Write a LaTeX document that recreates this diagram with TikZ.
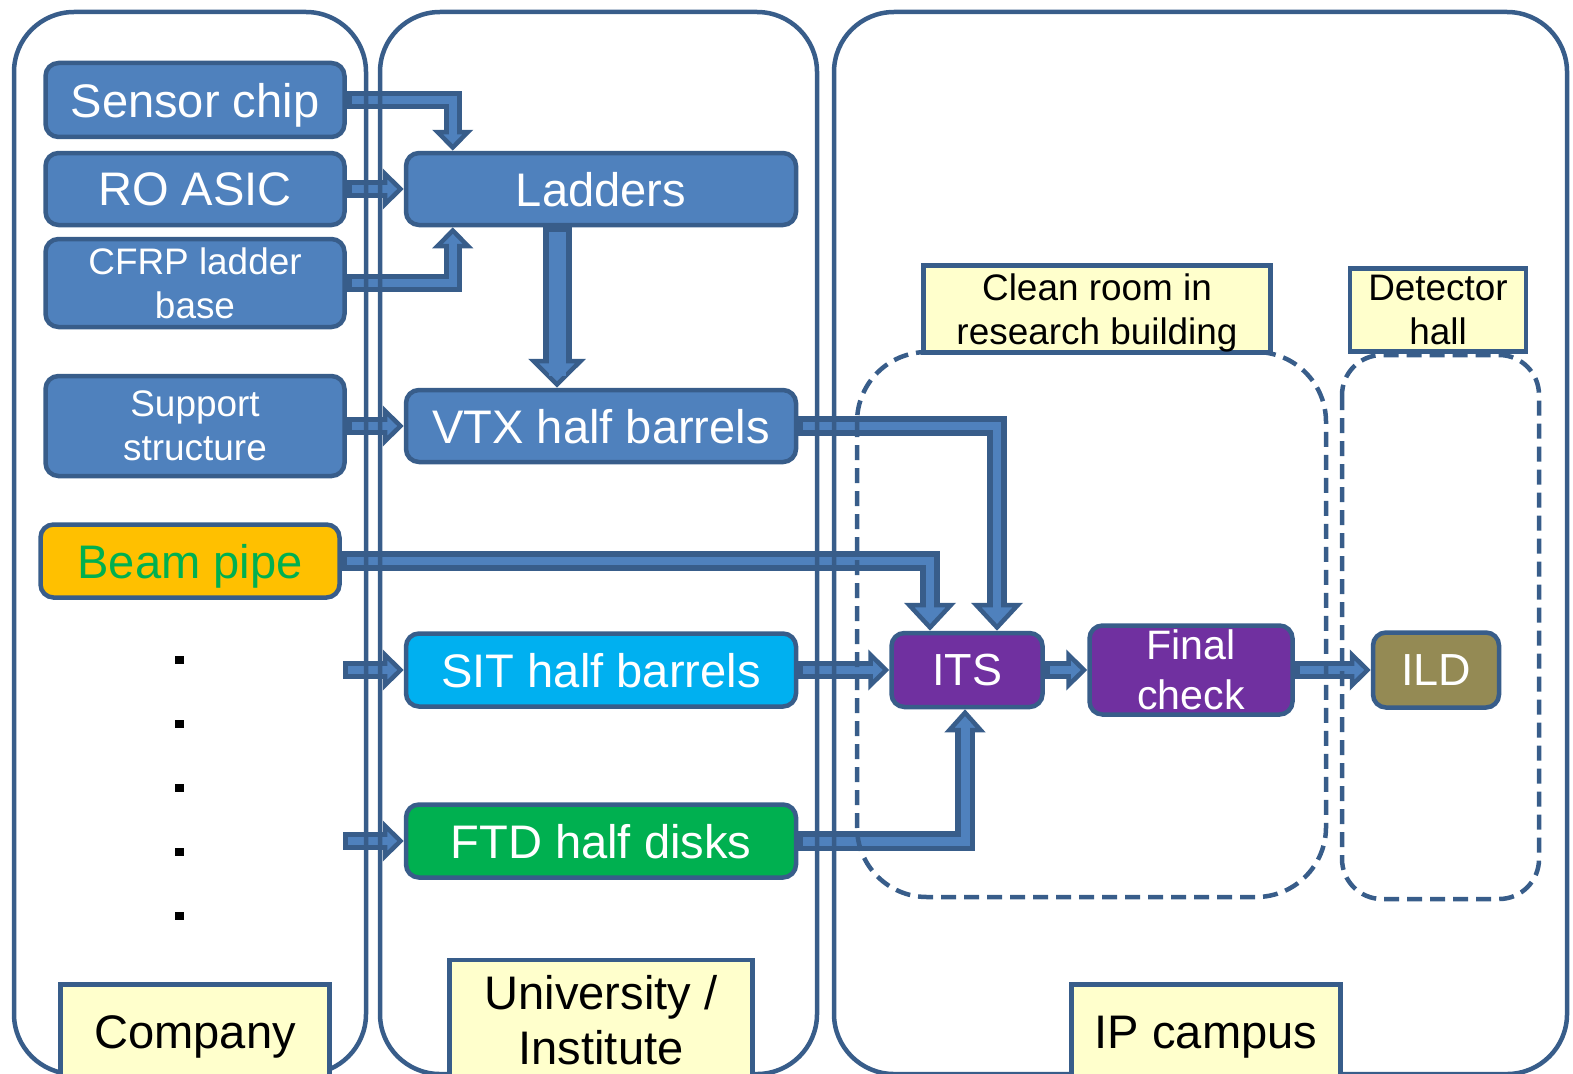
\documentclass[tikz,border=0pt]{standalone}
\usepackage{fontspec}
\setmainfont{Liberation Sans}
\usetikzlibrary{arrows.meta}

\definecolor{edge}{RGB}{56,93,138}
\definecolor{boxblue}{RGB}{79,129,189}
\definecolor{note}{RGB}{255,255,204}
\definecolor{pipeorange}{RGB}{255,192,0}
\definecolor{sitblue}{RGB}{0,176,240}
\definecolor{ftdgreen}{RGB}{0,176,80}
\definecolor{itspurple}{RGB}{112,48,160}
\definecolor{ildolive}{RGB}{148,138,84}

\newcommand{\bigtext}{\fontsize{13.4}{15.6}\selectfont}
\newcommand{\midtext}{\fontsize{10.5}{12.5}\selectfont}

\begin{document}
\begin{tikzpicture}[x=0.1mm,y=-0.1mm,
    box/.style={draw=edge,line width=0.45mm,rounded corners=1.3mm,fill=boxblue,
      text=white,font=\bigtext,align=center,inner sep=0pt,text depth=0pt},
    note/.style={draw=edge,line width=0.45mm,fill=note,text=black,
      align=center,inner sep=0pt,text depth=0pt},
    hall/.style={draw=edge,line width=0.45mm,rounded corners=6mm},
    zone/.style={draw=edge,line width=0.45mm,dash pattern=on 1.5mm off 0.8mm},
    pipe/.style args={#1/#2/#3/#4}{draw=edge,line width=#1,line join=miter,
      -{Triangle[width=#3,length=#4,line width=0.45mm,fill=boxblue]},
      postaction={draw=boxblue,line width=#2,arrows=-,
        shorten >=1.2mm,shorten <=0.5mm}},
    thinpipe/.style={pipe=1.8mm/0.8mm/4mm/2.1mm},
    widepipe/.style={pipe=2mm/0.8mm/5.1mm/2.8mm}]

  \useasboundingbox (0,0) rectangle (1573,1073);

  % company parts
  \node[box,minimum width=29.9mm,minimum height=7.4mm] (sensor) at (195,100) {Sensor chip};
  \node[box,minimum width=29.9mm,minimum height=7.2mm] (roasic) at (195,189) {RO ASIC};
  \node[box,font=\midtext,minimum width=29.9mm,minimum height=8.8mm] (cfrp) at (195,283) {CFRP ladder\\base};
  \node[box,font=\midtext,minimum width=29.9mm,minimum height=10mm] (support) at (195,426) {Support\\structure};
  \node[box,fill=pipeorange,text=ftdgreen,minimum width=29.9mm,minimum height=7.3mm] (beampipe) at (190,561) {Beam pipe};
  \foreach \y in {660,724,788,852,916}
    \fill (175,\y-4) rectangle ++(9,8);

  % assembly at the institutes
  \node[box,minimum width=39mm,minimum height=7.2mm] (ladders) at (601,189) {Ladders};
  \node[box,minimum width=39mm,minimum height=7.2mm] (vtx) at (601,426) {VTX half barrels};
  \node[box,fill=sitblue,minimum width=39mm,minimum height=7.3mm] (sit) at (601,670) {SIT half barrels};
  \node[box,fill=ftdgreen,minimum width=39mm,minimum height=7.3mm] (ftd) at (601,841) {FTD half disks};

  % IP campus
  \node[box,fill=itspurple,font=\fontsize{12.8}{15}\selectfont,
    minimum width=15.1mm,minimum height=7.4mm] (its) at (967,670) {ITS};
  \node[box,fill=itspurple,font=\fontsize{11.7}{14.2}\selectfont,
    minimum width=20.3mm,minimum height=8.9mm] (final) at (1191,670) {Final\\check};
  \node[box,fill=ildolive,font=\fontsize{12.8}{15}\selectfont,
    minimum width=12.6mm,minimum height=7.5mm] (ild) at (1436,670) {ILD};

  \coordinate (sitin) at (343,670);
  \coordinate (ftdin) at (343,841);

  \draw[thinpipe] (sensor.east) -| ([xshift=4.9mm]ladders.north west);
  \draw[thinpipe] (roasic.east) -- (ladders.west);
  \draw[thinpipe] (cfrp.east) -| ([xshift=4.9mm]ladders.south west);
  \draw[pipe=2.9mm/1.7mm/5.7mm/2.9mm] ([xshift=-4.4mm]ladders.south) -- ([xshift=-4.4mm]vtx.north);
  \draw[thinpipe] (support.east) -- (vtx.west);
  \draw[widepipe] (vtx.east) -| ([xshift=3mm]its.north);
  \draw[widepipe] (beampipe.east) -| ([xshift=-3.7mm]its.north);
  \draw[thinpipe] (sitin) -- (sit.west);
  \draw[thinpipe] (ftdin) -- (ftd.west);
  \draw[thinpipe] (sit.east) -- (its.west);
  \draw[pipe=2mm/0.9mm/4mm/2.3mm] (ftd.east) -| ([xshift=-0.2mm]its.south);
  \draw[thinpipe] (its.east) -- (final.west);
  \draw[thinpipe] (final.east) -- (ild.west);

  % sites
  \draw[hall] (14,12) rectangle (366,1074);
  \draw[hall] (380,12) rectangle (817,1074);
  \draw[hall] (834,12) rectangle (1567,1074);
  \draw[zone,rounded corners=7mm] (857,352) rectangle (1326,897);
  \draw[zone,rounded corners=4mm] (1342,355) rectangle (1539,899);

  \node[note,font=\bigtext,minimum width=26.9mm,minimum height=9.5mm] (company) at (195,1032) {Company};
  \node[note,font=\bigtext,minimum width=30.3mm,minimum height=12mm] (institute) at (601,1020) {University /\\Institute};
  \node[note,font=\bigtext,minimum width=26.9mm,minimum height=9.5mm] (campus) at (1206,1032) {IP campus};
  \node[note,font=\midtext,minimum width=34.7mm,minimum height=8.7mm] (cleanroom) at (1097,309) {Clean room in\\research building};
  \node[note,font=\midtext,minimum width=17.6mm,minimum height=8.3mm] (dethall) at (1438,310) {Detector\\hall};

\end{tikzpicture}
\end{document}
